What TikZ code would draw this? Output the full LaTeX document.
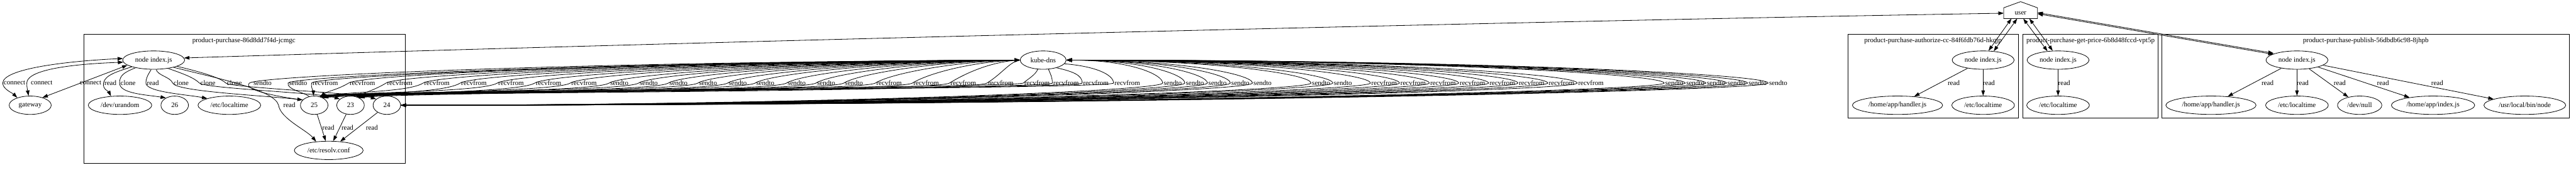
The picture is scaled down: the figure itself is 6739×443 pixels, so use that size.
\documentclass[tikz,border=0pt]{standalone}
\usepackage{fontspec}
\setmainfont{Liberation Serif}
\usetikzlibrary{arrows.meta,shapes.geometric,calc}
\begin{document}
\begin{tikzpicture}[x=0.75pt,y=-0.75pt,line width=1pt,
  >={Triangle[length=10.5pt,width=7pt]},
  every node/.style={font=\fontsize{13.6}{16}\selectfont},
  gv/.style={draw, ellipse, minimum width=#1, minimum height=36pt, inner sep=0pt},
  lbl/.style={inner sep=1.5pt},
  clus/.style={draw},
  rv/.style={->}, sd/.style={<-}, both/.style={<->}]
\useasboundingbox (0,0) rectangle (6739,443);

% clusters
\draw[clus] (219,89) rectangle (1060,427);
\node (t1) at (638,107) {product-purchase-86d8dd7f4d-jcmgc};
\draw[clus] (4835,89) rectangle (5281,309);
\node (t2) at (5057,107) {product-purchase-authorize-cc-84f6fdb76d-hkqjp};
\draw[clus] (5292,89) rectangle (5645,309);
\node (t3) at (5469,107) {product-purchase-get-price-6b8d48fccd-vpt5p};
\draw[clus] (5656,89) rectangle (6722,309);
\node (t4) at (6189,107) {product-purchase-publish-56dbdb6c98-8jhpb};

% nodes cluster 1
\node[gv=121.5pt] (n1) at (402,157) {node index.js};
\node[gv=82.5pt] (gw) at (79,275) {gateway};
\node[gv=124.5pt] (ur) at (314,275) {/dev/urandom};
\node[gv=54pt] (n26) at (457,275) {26};
\node[gv=123pt] (lt1) at (600,275) {/etc/localtime};
\node[gv=54pt] (s25) at (822,275) {25};
\node[gv=54pt] (s23) at (917,275) {23};
\node[gv=54pt] (s24) at (1012,275) {24};
\node[gv=135pt] (rc) at (860,393) {/etc/resolv.conf};
\node[gv=90pt] (dns) at (2729,157) {kube-dns};

% user
\node[minimum width=65.25pt, minimum height=20.25pt, inner sep=0pt] (user) at (5286,34.5) {user};
\draw (user.south west) -- (user.south east) -- (user.north east) -- ($(user.north)+(0,-16)$) -- (user.north west) -- cycle;

% cluster 2
\node[gv=121.5pt] (n2) at (5188,157) {node index.js};
\node[gv=177pt] (hj2) at (4964,275) {/home/app/handler.js};
\node[gv=123pt] (lt2) at (5188,275) {/etc/localtime};
% cluster 3
\node[gv=121.5pt] (n3) at (5384,157) {node index.js};
\node[gv=123pt] (lt3) at (5384,275) {/etc/localtime};
% cluster 4
\node[gv=121.5pt] (n4) at (6009,157) {node index.js};
\node[gv=177pt] (hj4) at (5784,275) {/home/app/handler.js};
\node[gv=123pt] (lt4) at (6009,275) {/etc/localtime};
\node[gv=87pt] (dn) at (6173,275) {/dev/null};
\node[gv=163.5pt] (hi) at (6365,275) {/home/app/index.js};
\node[gv=160.5pt] (ub) at (6605,275) {/usr/local/bin/node};

% cluster 1 edges
\node[lbl] (k1) at (38,217) {connect};
\node[lbl] (k2) at (109,217) {connect};
\node[lbl] (k3) at (237,217) {connect};
\draw[both] (n1.177) .. controls (170,160) and (8,180) .. (k1.west) .. controls +(0,16) and +(-12,-12) .. (gw.150);
\draw[both] (n1.184) .. controls (170,168) and (70,185) .. ($(k2.west)+(-8,0)$) .. controls +(0,14) and +(-2,-12) .. (gw.100);
\draw[both] (n1.191) -- (gw.32);

\node[lbl] (r1) at (289,217) {read};
\draw[->] (n1.197) .. controls +(-35,12) and +(4,-22) .. (r1.west) .. controls +(-3,16) and +(-6,-12) .. (ur.135);
\node[lbl] (c1) at (335,217) {clone};
\draw[->] (n1.203) .. controls +(-30,12) and +(0,-20) .. (c1.west) .. controls +(0,28) and +(-50,-8) .. (n26.140);
\node[lbl] (r2) at (400,217) {read};
\draw[->] (n1.255) .. controls +(-8,14) and +(0,-14) .. (r2.west) .. controls +(0,24) and +(-50,-10) .. (lt1.163);
\node[lbl] (c2) at (474,217) {clone};
\draw[->] (n1.285) .. controls +(4,16) and +(-6,-16) .. (c2.west) .. controls +(8,22) and +(-110,-12) .. (s25.155);
\node[lbl] (c3) at (544,217) {clone};
\draw[->] (n1.330) .. controls +(40,14) and +(-14,-14) .. (c3.west) .. controls +(14,14) and +(-50,-16) .. (s23.150);
\node[lbl] (c4) at (613,217) {clone};
\draw[->] (n1.345) .. controls +(60,14) and +(-14,-14) .. (c4.west) .. controls +(14,12) and +(-50,-16) .. (s24.150);
\node[lbl] (r3) at (757,275) {read};
\draw[->] (n1.340) .. controls +(120,30) and +(-10,-40) .. ($(r3.west)+(-10,0)$) .. controls +(5,35) and +(-25,-30) .. (rc.145);

\node[lbl] (r4) at (859,334) {read};
\node[lbl] (r5) at (909,334) {read};
\node[lbl] (r6) at (973,334) {read};
\draw[->] (s25) -- (rc);
\draw[->] (s23) -- (rc);
\draw[->] (s24) -- (rc);

% user edges
\draw[both] (n1.4) .. controls (1800,110) and (4000,55) .. (user.west);
\draw[both] ($(user.south)+(-24,0)$) -- (n2.60);
\draw[both] ($(user.south)+(-9,0)$) -- (n2.40);
\draw[both] ($(user.south)+(7,0)$) -- (n3.140);
\draw[both] ($(user.south)+(23,0)$) -- (n3.120);
\draw[both] ($(user.east)+(0,-1.5)$) -- ($(n4.165)+(0,-1.5)$);
\draw[both] ($(user.east)+(0,1.5)$) -- ($(n4.165)+(0,1.5)$);

% cluster 2-4 edges
\node[lbl] (e1) at (5111,217) {read};
\node[lbl] (e2) at (5203,217) {read};
\draw[->] (n2) -- (hj2);
\draw[->] (n2) -- (lt2);
\node[lbl] (e3) at (5400,217) {read};
\draw[->] (n3) -- (lt3);
\node[lbl] (e4) at (5932,217) {read};
\node[lbl] (e5) at (6024,217) {read};
\node[lbl] (e6) at (6121,217) {read};
\node[lbl] (e7) at (6234,217) {read};
\node[lbl] (e8) at (6376,217) {read};
\draw[->] (n4) -- (hj4);
\draw[->] (n4) -- (lt4);
\draw[->] (n4) -- (dn);
\draw[->] (n4) -- (hi);
\draw[->] (n4) -- (ub);

% DNS edges: special left ones
\node[lbl] (q687) at (687,217) {sendto};
\draw[sd] (dns.west) .. controls +(-1200,5) and +(20,-18) .. ($(q687.west)+(-8,0)$) .. controls +(-18,16) and +(-80,-10) .. (s25.155);
\node[lbl] (q780) at (780,217) {sendto};
\draw[sd] (dns.west) .. controls +(-950,3) and +(15,-20) .. (q780.west) .. controls +(-5,16) and +(-12,-10) .. (s25.120);
\node[lbl] (q851) at (851,217) {recvfrom};
\draw[rv] (dns.west) .. controls +(-900,3) and +(12,-20) .. (q851.west) .. controls +(-2,14) and +(0,-12) .. (s25.95);
\node[lbl] (q948) at (948,217) {recvfrom};
\draw[rv] (dns.west) .. controls +(-860,3) and +(40,-25) .. (q948.west) .. controls +(-30,18) and +(18,-14) .. (s25.55);
\node[lbl] (q1046) at (1046,217) {recvfrom};
\draw[rv] (dns.west) .. controls +(-810,3) and +(40,-25) .. (q1046.west) .. controls +(-30,18) and +(20,-12) .. (s23.50);

% DNS edges: standard left ones
\foreach \lx/\lt/\tg/\st in {1143/recvfrom/s25.50/rv, 1240/recvfrom/s23.45/rv,
  1337/recvfrom/s25.45/rv, 1435/recvfrom/s23.40/rv, 1528/recvfrom/s25.40/rv,
  1620/sendto/s23.55/sd, 1697/sendto/s25.55/sd, 1775/sendto/s23.50/sd,
  1852/sendto/s25.50/sd, 1930/sendto/s23.45/sd, 2002/sendto/s25.45/sd,
  2084/sendto/s23.40/sd, 2161/sendto/s25.40/sd, 2234/sendto/s23.55/sd,
  2326/recvfrom/s25.55/rv, 2423/recvfrom/s23.50/rv, 2520/recvfrom/s25.50/rv,
  2618/recvfrom/s23.45/rv}{
  \pgfmathsetmacro\da{0.5*(2669-\lx)}
  \node[lbl] (q\lx) at (\lx,217) {\lt};
  \draw[\st] (dns.west) .. controls +(-\da,3) and +(40,-25) .. (q\lx.west) .. controls +(-40,25) and +(60,-14) .. (\tg);
}

% DNS edges near kube-dns
\node[lbl] (q2713) at (2713,217) {recvfrom};
\draw[rv] (dns.240) .. controls +(-8,16) and +(14,-12) .. (q2713.west) .. controls +(-14,12) and +(60,-14) .. (s25.60);
\node[lbl] (q2789) at (2789,217) {recvfrom};
\draw[rv] (dns.300) .. controls +(6,14) and +(0,-14) .. (q2789.west) .. controls +(0,16) and +(60,-14) .. (s23.60);
\node[lbl] (q2867) at (2867,217) {recvfrom};
\draw[rv] (dns.330) .. controls +(45,10) and +(0,-20) .. (q2867.west) .. controls +(0,16) and +(60,-14) .. (s25.55);
\node[lbl] (q2949) at (2949,217) {recvfrom};
\draw[rv] (dns.350) .. controls +(80,6) and +(0,-22) .. (q2949.west) .. controls +(0,16) and +(60,-14) .. (s23.55);

% DNS edges: right loops
\foreach \lx/\lt/\st in {3068/sendto/sd, 3126/sendto/sd, 3185/sendto/sd,
  3245/sendto/sd, 3303/sendto/sd, 3456/sendto/sd, 3513/sendto/sd,
  3621/recvfrom/rv, 3697/recvfrom/rv, 3775/recvfrom/rv, 3852/recvfrom/rv,
  3930/recvfrom/rv, 4007/recvfrom/rv, 4085/recvfrom/rv, 4162/recvfrom/rv,
  4380/sendto/sd, 4435/sendto/sd, 4489/sendto/sd, 4543/sendto/sd,
  4598/sendto/sd, 4652/sendto/sd}{
  \pgfmathsetmacro\db{0.6*(\lx-2789)}
  \pgfmathsetmacro\dc{0.5*(\lx-1048)}
  \node[lbl] (q\lx) at (\lx,217) {\lt};
  \draw[\st] (dns.east) .. controls +(\db,0) and +(0,-22) .. (q\lx.west) .. controls +(0,22) and +(\dc,0) .. (s24.east);
}
\end{tikzpicture}
\end{document}
